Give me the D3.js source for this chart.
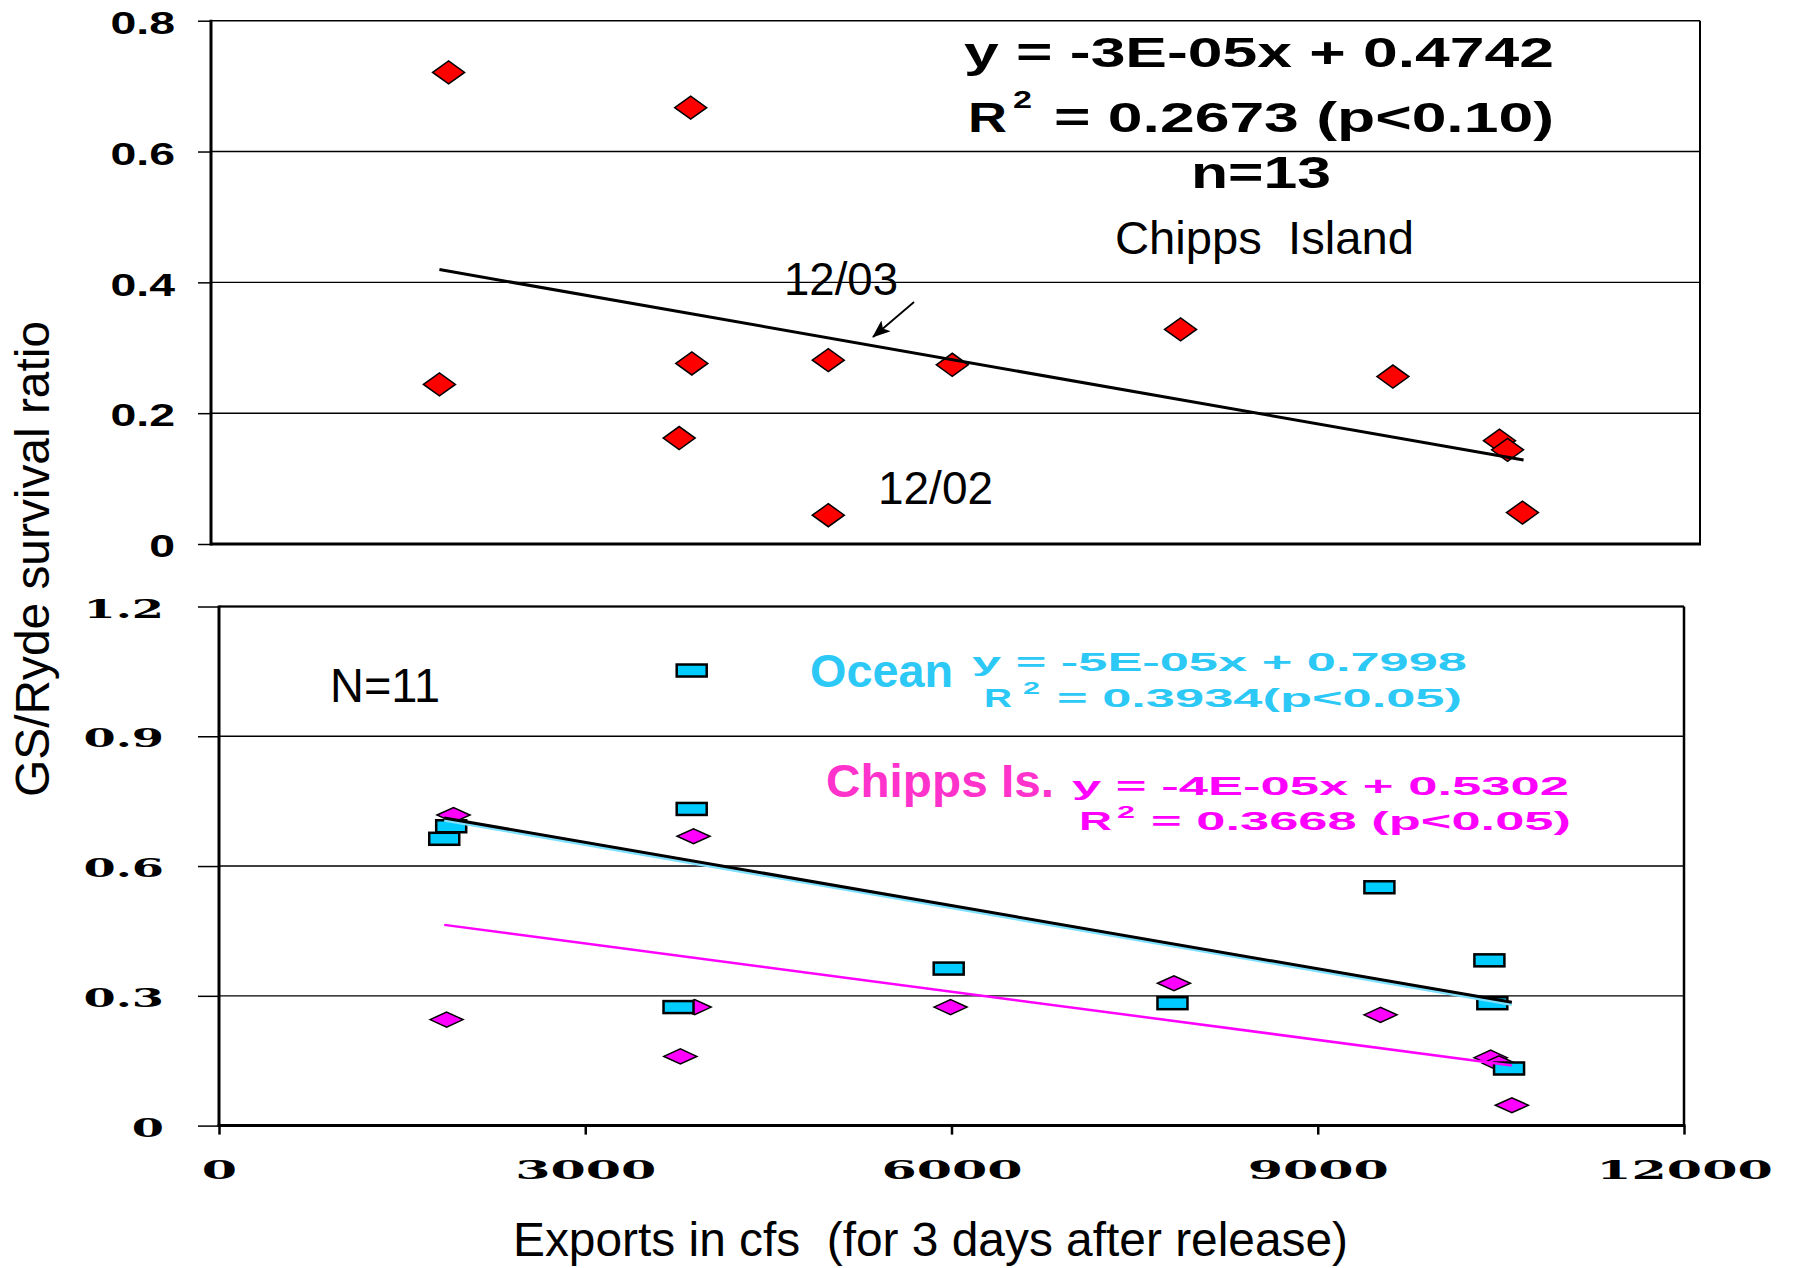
<!DOCTYPE html>
<html><head><meta charset="utf-8">
<script src="https://cdn.jsdelivr.net/npm/d3@7"></script>
<style>
html,body{margin:0;padding:0;background:#fff;}
svg{display:block;}
text{white-space:pre;}
</style></head><body>
<svg id="chart" width="1799" height="1268"></svg>
<script>
// ---------------- DATA ----------------
// Top panel: Chipps Island (n=13)
const topExports = [1915, 3866, 1841, 3875, 4975, 3773, 4975, 5974, 7814, 9525, 10384, 10449, 10569];
const topChipps  = [0.721, 0.667, 0.244, 0.276, 0.281, 0.162, 0.044, 0.274, 0.328, 0.256, 0.158, 0.144, 0.048];
const topTrendX  = [1841, 10578];
const topTrendY  = [0.4195, 0.1284];

// Bottom panel: Ocean (squares) and Chipps Is. (diamonds), N=11
const oceanExports  = [3872, 3872, 1902, 1845, 3764, 5977, 7810, 9505, 10406, 10430, 10567];
const oceanRatio    = [1.052, 0.732, 0.692, 0.663, 0.274, 0.363, 0.283, 0.551, 0.382, 0.283, 0.132];
const chippsExports = [1921, 3887, 1864, 3896, 3779, 5992, 7822, 9514, 10416, 10484, 10590];
const chippsRatio   = [0.718, 0.669, 0.245, 0.274, 0.160, 0.274, 0.329, 0.256, 0.157, 0.144, 0.047];
const trendX        = [1845, 10590];
const oceanTrendY   = [0.706, 0.280];
const blackTrendY   = [0.711, 0.285];
const chippsTrendY  = [0.464, 0.139];

// Annotation arrow (data units, top panel)
const arrowX = [5666, 5335];
const arrowY = [0.370, 0.3165];

// Ticks
const topYTicks = [0, 0.2, 0.4, 0.6, 0.8];
const topYLabels = ["0", "0.2", "0.4", "0.6", "0.8"];
const botYTicks = [0, 0.3, 0.6, 0.9, 1.2];
const botYLabels = ["0", "0.3", "0.6", "0.9", "1.2"];
const xTicks = [0, 3000, 6000, 9000, 12000];
const xLabels = ["0", "3000", "6000", "9000", "12000"];

// ---------------- LAYOUT ----------------
const T = {left: 211, right: 1700, top: 20.7, bottom: 544};
const B = {left: 219, right: 1684, top: 606.5, bottom: 1125.6};
const SANS = "'Liberation Sans', Arial, sans-serif";
const SERIF = "'DejaVu Serif', serif";
const CYAN = "#00CCFF", CYAN_TXT = "#2CC8F6", MAG = "#FF00FF", MAG_TXT = "#FF33CC";

const xTop = d3.scaleLinear().domain([0, 12000]).range([T.left, T.right]);
const yTop = d3.scaleLinear().domain([0, 0.8]).range([T.bottom, T.top]);
const xBot = d3.scaleLinear().domain([0, 12000]).range([B.left, B.right]);
const yBot = d3.scaleLinear().domain([0, 1.2]).range([B.bottom, B.top]);

const svg = d3.select("#chart");
svg.append("rect").attr("width", 1799).attr("height", 1268).attr("fill", "#fff");

function stretch(sel, factor) {
  sel.each(function () {
    const n = this.getComputedTextLength();
    d3.select(this).attr("textLength", n * factor).attr("lengthAdjust", "spacingAndGlyphs");
  });
}
function label(str, x, y, o) {
  const t = svg.append("text").text(str)
    .attr("x", x).attr("y", y)
    .attr("font-family", o.family || SANS)
    .attr("font-size", o.size)
    .attr("font-weight", o.weight || "normal")
    .attr("fill", o.fill || "#000")
    .attr("text-anchor", o.anchor || "start");
  if (o.width) t.attr("textLength", o.width).attr("lengthAdjust", "spacingAndGlyphs");
  if (o.transform) t.attr("transform", o.transform);
  return t;
}
function diamond(cx, cy, w, h) {
  return `M${cx - w / 2},${cy}L${cx},${cy - h / 2}L${cx + w / 2},${cy}L${cx},${cy + h / 2}Z`;
}

// ---------------- TOP PANEL ----------------
svg.append("g").selectAll("line")
  .data(topYTicks.filter(d => d > 0)).join("line")
  .attr("x1", T.left).attr("x2", T.right)
  .attr("y1", d => yTop(d)).attr("y2", d => yTop(d))
  .attr("stroke", "#000").attr("stroke-width", 1.4);

const axT = d3.axisLeft(yTop).tickValues(topYTicks)
  .tickFormat((d, i) => topYLabels[i]).tickSize(13).tickPadding(23);
const gAxT = svg.append("g").attr("transform", `translate(${T.left},0)`).call(axT);
gAxT.select(".domain").remove();
gAxT.selectAll(".tick line").attr("stroke", "#000").attr("stroke-width", 1.5);
gAxT.selectAll(".tick text").attr("font-family", SANS).attr("font-weight", "bold")
  .attr("font-size", 32).attr("fill", "#000").attr("dy", "0.4em");
stretch(gAxT.selectAll(".tick text"), 1.45);

// frame
svg.append("line").attr("x1", T.right).attr("x2", T.right).attr("y1", T.top).attr("y2", T.bottom)
  .attr("stroke", "#000").attr("stroke-width", 2);
svg.append("line").attr("x1", T.left).attr("x2", T.left).attr("y1", T.top - 1).attr("y2", T.bottom + 1.5)
  .attr("stroke", "#000").attr("stroke-width", 3);
svg.append("line").attr("x1", T.left).attr("x2", T.right + 1).attr("y1", T.bottom).attr("y2", T.bottom)
  .attr("stroke", "#000").attr("stroke-width", 3);

// red diamonds
svg.append("g").selectAll("path")
  .data(topExports.map((x, i) => ({x, y: topChipps[i]}))).join("path")
  .attr("d", d => diamond(xTop(d.x), yTop(d.y), 32, 23))
  .attr("fill", "#FF0000").attr("stroke", "#000").attr("stroke-width", 1.5);

// trend line
svg.append("path")
  .attr("d", d3.line()(topTrendX.map((x, i) => [xTop(x), yTop(topTrendY[i])])))
  .attr("stroke", "#000").attr("stroke-width", 3).attr("fill", "none");

// arrow
svg.append("defs").append("marker").attr("id", "ah")
  .attr("markerUnits", "userSpaceOnUse").attr("markerWidth", 20).attr("markerHeight", 16)
  .attr("refX", 17).attr("refY", 7).attr("orient", "auto")
  .append("path").attr("d", "M0,0L18,7L0,14L4,7Z").attr("fill", "#000");
svg.append("line")
  .attr("x1", xTop(arrowX[0])).attr("y1", yTop(arrowY[0]))
  .attr("x2", xTop(arrowX[1])).attr("y2", yTop(arrowY[1]))
  .attr("stroke", "#000").attr("stroke-width", 1.8).attr("marker-end", "url(#ah)");

// top annotations
label("y = -3E-05x + 0.4742", 964, 67, {size: 42, weight: "bold", width: 590});
label("R", 968, 132.4, {size: 42, weight: "bold", width: 39});
label("2", 1013, 108, {size: 23, weight: "bold", width: 19});
label("= 0.2673 (p<0.10)", 1054, 132.4, {size: 42, weight: "bold", width: 500});
label("n=13", 1191, 188, {size: 44, weight: "bold", width: 140});
label("Chipps  Island", 1115, 254, {size: 47, width: 299});
label("12/03", 784, 295, {size: 47, width: 114});
label("12/02", 878, 504, {size: 47, width: 115});

// ---------------- BOTTOM PANEL ----------------
svg.append("g").selectAll("line")
  .data(botYTicks.filter(d => d > 0)).join("line")
  .attr("x1", B.left).attr("x2", B.right)
  .attr("y1", d => yBot(d)).attr("y2", d => yBot(d))
  .attr("stroke", "#000").attr("stroke-width", 1.4);

const axBL = d3.axisLeft(yBot).tickValues(botYTicks)
  .tickFormat((d, i) => botYLabels[i]).tickSize(21).tickPadding(34);
const gAxBL = svg.append("g").attr("transform", `translate(${B.left},0)`).call(axBL);
gAxBL.select(".domain").remove();
gAxBL.selectAll(".tick line").attr("stroke", "#000").attr("stroke-width", 1.5);
gAxBL.selectAll(".tick text").attr("font-family", SERIF).attr("font-weight", "bold")
  .attr("font-size", 26).attr("fill", "#000").attr("dy", "0.41em");
stretch(gAxBL.selectAll(".tick text"), 1.78);

const axBB = d3.axisBottom(xBot).tickValues(xTicks)
  .tickFormat((d, i) => xLabels[i]).tickSize(9).tickPadding(0);
const gAxBB = svg.append("g").attr("transform", `translate(0,${B.bottom})`).call(axBB);
gAxBB.select(".domain").remove();
gAxBB.selectAll(".tick line").attr("stroke", "#000").attr("stroke-width", 2.5);
gAxBB.selectAll(".tick text").attr("font-family", SERIF).attr("font-weight", "bold")
  .attr("font-size", 26).attr("fill", "#000").attr("y", 53).attr("dy", 0);
stretch(gAxBB.selectAll(".tick text"), 1.95);

svg.append("line").attr("x1", B.left).attr("x2", B.right).attr("y1", B.top).attr("y2", B.top)
  .attr("stroke", "#000").attr("stroke-width", 2);
svg.append("line").attr("x1", B.right).attr("x2", B.right).attr("y1", B.top).attr("y2", B.bottom)
  .attr("stroke", "#000").attr("stroke-width", 2.5);
svg.append("line").attr("x1", B.left).attr("x2", B.left).attr("y1", B.top - 1).attr("y2", B.bottom + 1.5)
  .attr("stroke", "#000").attr("stroke-width", 3);
svg.append("line").attr("x1", B.left - 1.5).attr("x2", B.right + 1.5).attr("y1", B.bottom).attr("y2", B.bottom)
  .attr("stroke", "#000").attr("stroke-width", 3);

// magenta diamonds
svg.append("g").selectAll("path")
  .data(chippsExports.map((x, i) => ({x, y: chippsRatio[i]}))).join("path")
  .attr("d", d => diamond(xBot(d.x), yBot(d.y), 33, 15))
  .attr("fill", MAG).attr("stroke", "#000").attr("stroke-width", 1.5);

// ocean squares
svg.append("g").selectAll("rect")
  .data(oceanExports.map((x, i) => ({x, y: oceanRatio[i]}))).join("rect")
  .attr("x", d => xBot(d.x) - 15).attr("y", d => yBot(d.y) - 6)
  .attr("width", 30).attr("height", 12)
  .attr("fill", CYAN).attr("stroke", "#000").attr("stroke-width", 2.5);

// trend lines
const tl = (ys) => d3.line()(trendX.map((x, i) => [xBot(x), yBot(ys[i])]));
svg.append("path").attr("d", tl(oceanTrendY)).attr("stroke", "#7FE0FF").attr("stroke-width", 3).attr("fill", "none");
svg.append("path").attr("d", tl(blackTrendY)).attr("stroke", "#000").attr("stroke-width", 3).attr("fill", "none");
svg.append("path").attr("d", tl(chippsTrendY)).attr("stroke", MAG).attr("stroke-width", 2.5).attr("fill", "none");

// bottom annotations
label("N=11", 330, 702, {size: 48, width: 110});
label("Ocean", 810, 686.5, {size: 47, weight: "bold", fill: CYAN_TXT, width: 143});
label("y = -5E-05x + 0.7998", 972, 671, {size: 25, weight: "bold", fill: CYAN_TXT, width: 495});
label("R", 984, 706.5, {size: 25, weight: "bold", fill: CYAN_TXT, width: 28});
label("2", 1023, 694, {size: 16, weight: "bold", fill: CYAN_TXT, width: 17});
label("= 0.3934(p<0.05)", 1057, 706.5, {size: 25, weight: "bold", fill: CYAN_TXT, width: 405});
label("Chipps Is.", 826, 797, {size: 46, weight: "bold", fill: MAG_TXT, width: 228});
label("y = -4E-05x + 0.5302", 1072, 795, {size: 25, weight: "bold", fill: MAG, width: 497});
label("R", 1079, 830, {size: 25, weight: "bold", fill: MAG, width: 33});
label("2", 1117, 818, {size: 16, weight: "bold", fill: MAG, width: 18});
label("= 0.3668 (p<0.05)", 1151, 830, {size: 25, weight: "bold", fill: MAG, width: 420});

// axis titles
label("GS/Ryde survival ratio", 0, 0, {size: 48, anchor: "middle", width: 476,
  transform: "translate(49,559) rotate(-90)"});
label("Exports in cfs  (for 3 days after release)", 513, 1256, {size: 48, width: 835});
</script>
</body></html>
